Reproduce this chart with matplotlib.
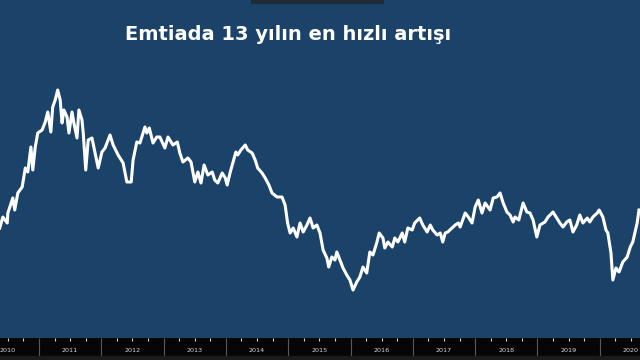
# Emtiada 13 yılın en hızlı artışı - commodity index line chart

import matplotlib
matplotlib.use("Agg")
import matplotlib.pyplot as plt
from matplotlib.patches import Rectangle
import matplotlib.transforms as mtransforms

# Data (decimal year, index level)
years = [
    2010.37, 2010.42, 2010.49, 2010.50, 2010.58, 2010.61, 2010.66, 2010.73, 2010.78, 2010.82,
    2010.87, 2010.90, 2010.94, 2010.98, 2011.05, 2011.10, 2011.14, 2011.19, 2011.22, 2011.26,
    2011.30, 2011.34, 2011.37, 2011.40, 2011.45, 2011.48, 2011.53, 2011.56, 2011.61, 2011.64,
    2011.69, 2011.71, 2011.75, 2011.79, 2011.85, 2011.90, 2011.95, 2012.01, 2012.06, 2012.14,
    2012.19, 2012.27, 2012.35, 2012.41, 2012.48, 2012.51, 2012.57, 2012.62, 2012.70, 2012.73,
    2012.77, 2012.83, 2012.89,
    2012.94, 2013.02, 2013.07, 2013.15, 2013.22, 2013.26, 2013.31, 2013.39, 2013.44, 2013.50,
    2013.55, 2013.60, 2013.65, 2013.71, 2013.78, 2013.82, 2013.87, 2013.94, 2013.99, 2014.02,
    2014.07, 2014.11, 2014.16, 2014.19, 2014.24, 2014.31, 2014.35, 2014.42, 2014.47, 2014.51,
    2014.58, 2014.63, 2014.69, 2014.74, 2014.82, 2014.90, 2014.95, 2014.99,
    2015.03, 2015.08, 2015.14, 2015.19, 2015.24, 2015.30, 2015.35, 2015.40, 2015.46, 2015.51,
    2015.56, 2015.62, 2015.65, 2015.70, 2015.75, 2015.78, 2015.83, 2015.88, 2015.94, 2015.99,
    2016.04, 2016.10, 2016.15, 2016.20, 2016.26, 2016.31, 2016.36, 2016.42, 2016.46, 2016.52,
    2016.55, 2016.60, 2016.67, 2016.71, 2016.76, 2016.83, 2016.87, 2016.92, 2016.99, 2017.03,
    2017.11, 2017.16, 2017.23, 2017.28, 2017.32, 2017.39, 2017.44, 2017.48, 2017.52, 2017.56,
    2017.63, 2017.68, 2017.73,
    2017.76, 2017.84, 2017.89, 2017.95, 2018.00, 2018.05, 2018.11, 2018.16, 2018.24, 2018.29,
    2018.35, 2018.40, 2018.45, 2018.51, 2018.56, 2018.61, 2018.64, 2018.70, 2018.77, 2018.83,
    2018.88, 2018.93, 2018.99, 2019.04, 2019.12, 2019.17, 2019.25, 2019.31, 2019.36, 2019.41,
    2019.47, 2019.52, 2019.57, 2019.63, 2019.68, 2019.73, 2019.80, 2019.84, 2019.89, 2019.96,
    2019.99, 2020.05, 2020.10, 2020.13, 2020.18, 2020.21, 2020.26, 2020.31, 2020.37, 2020.44,
    2020.49, 2020.53, 2020.60, 2020.63,
]
index_level = [
    105.0, 110.5, 107.5, 112.5, 120.0, 114.0, 122.5, 125.5, 135.0, 133.0,
    145.5, 134.0, 145.5, 152.5, 154.0, 158.0, 163.0, 153.0, 165.5, 169.0,
    174.0, 169.0, 157.5, 164.0, 160.5, 152.5, 163.0, 157.5, 150.0, 164.0,
    159.0, 152.5, 134.0, 149.0, 150.0, 142.5, 135.0, 143.0, 145.0, 151.5,
    146.5, 141.5, 137.5, 128.0, 128.0, 139.0, 148.0, 147.5, 155.5, 152.5,
    155.0, 147.5, 150.5,
    150.5, 145.0, 150.5, 146.5, 148.0, 142.5, 138.0, 140.0, 138.0, 128.0,
    133.0, 127.5, 136.5, 131.5, 133.0, 129.0, 127.5, 132.5, 130.0, 126.5,
    133.0, 137.5, 143.0, 141.5, 144.0, 146.5, 144.0, 142.5, 139.0, 135.0,
    132.5, 130.0, 126.5, 122.5, 120.5, 120.5, 116.5, 107.5,
    102.5, 105.0, 100.5, 107.5, 103.0, 106.5, 110.0, 105.0, 106.5, 102.5,
    94.0, 90.0, 85.5, 90.5, 89.0, 93.0, 89.0, 85.0, 81.5, 79.0,
    74.0, 78.0, 80.5, 85.5, 82.5, 93.0, 91.5, 97.5, 102.5, 100.0,
    95.0, 98.0, 95.5, 100.0, 98.0, 102.5, 98.0, 105.0, 104.0, 107.5,
    110.0, 106.5, 103.0, 106.5, 104.0, 101.5, 102.5, 98.0, 102.5, 103.0,
    105.0, 106.5, 107.5,
    105.5, 112.5, 110.5, 107.5, 115.5, 119.0, 112.5, 117.5, 114.0, 120.0,
    120.5, 122.5, 117.5, 113.0, 111.5, 108.0, 110.5, 109.0, 117.5, 113.0,
    112.5, 109.0, 100.5, 106.5, 108.0, 110.5, 113.0, 110.0, 107.5, 105.5,
    108.0, 109.0, 103.0, 106.5, 111.5, 107.5, 110.0, 108.0, 110.5, 112.5,
    114.0, 110.5, 104.0, 102.5, 92.5, 79.0, 85.0, 83.0, 88.0, 90.5,
    95.5, 98.0, 107.5, 114.0,
]
year_labels = list(range(2010, 2021))
title = "Emtiada 13 yılın en hızlı artışı"


def main():
    fig = plt.figure(figsize=(6.4, 3.6), dpi=100, facecolor="#060606")
    ax = fig.add_axes([0, 22 / 360, 1, 338 / 360])
    ax.set_facecolor("#1b436a")

    ax.plot(years, index_level, color="white", linewidth=2.2, solid_joinstyle="round")

    for side in ax.spines.values():
        side.set_visible(False)
    ax.set_yticks([])

    # year separators + quarterly ticks
    ax.set_xticks(year_labels + [2021])
    ax.set_xticklabels([])
    ax.tick_params(axis="x", which="major", length=13, width=0.8, color="#5a5a5a",
                   direction="out")
    quarters = [y + q / 4 for y in range(2010, 2021) for q in (1, 2, 3)]
    ax.set_xticks(quarters, minor=True)
    ax.tick_params(axis="x", which="minor", length=2, width=0.8, color="#cfcfcf",
                   direction="out")

    # limits after the ticks so they don't get widened
    ax.set_xlim(2010.374, 2020.646)
    ax.set_ylim(50, 219)

    trans = mtransforms.blended_transform_factory(ax.transData, ax.transAxes)
    for yr in year_labels:
        ax.text(yr + 0.5, -0.036, str(yr), transform=trans, ha="center", va="center",
                fontsize=4.6, color="#d8d8d8", clip_on=False)

    fig.text(0.45, 0.903, title, ha="center", va="center", fontsize=14,
             fontweight="bold", color="white", family="DejaVu Sans")

    # small dark tab at the top and bottom strip
    fig.patches.append(Rectangle((251 / 640, 357 / 360), 132 / 640, 3 / 360,
                                 transform=fig.transFigure, color="#1d2a38"))
    fig.patches.append(Rectangle((0, 0), 1, 4 / 360, transform=fig.transFigure,
                                 color="#1b1b1b"))

    fig.savefig("out.png", dpi=100, facecolor=fig.get_facecolor())


if __name__ == "__main__":
    main()
